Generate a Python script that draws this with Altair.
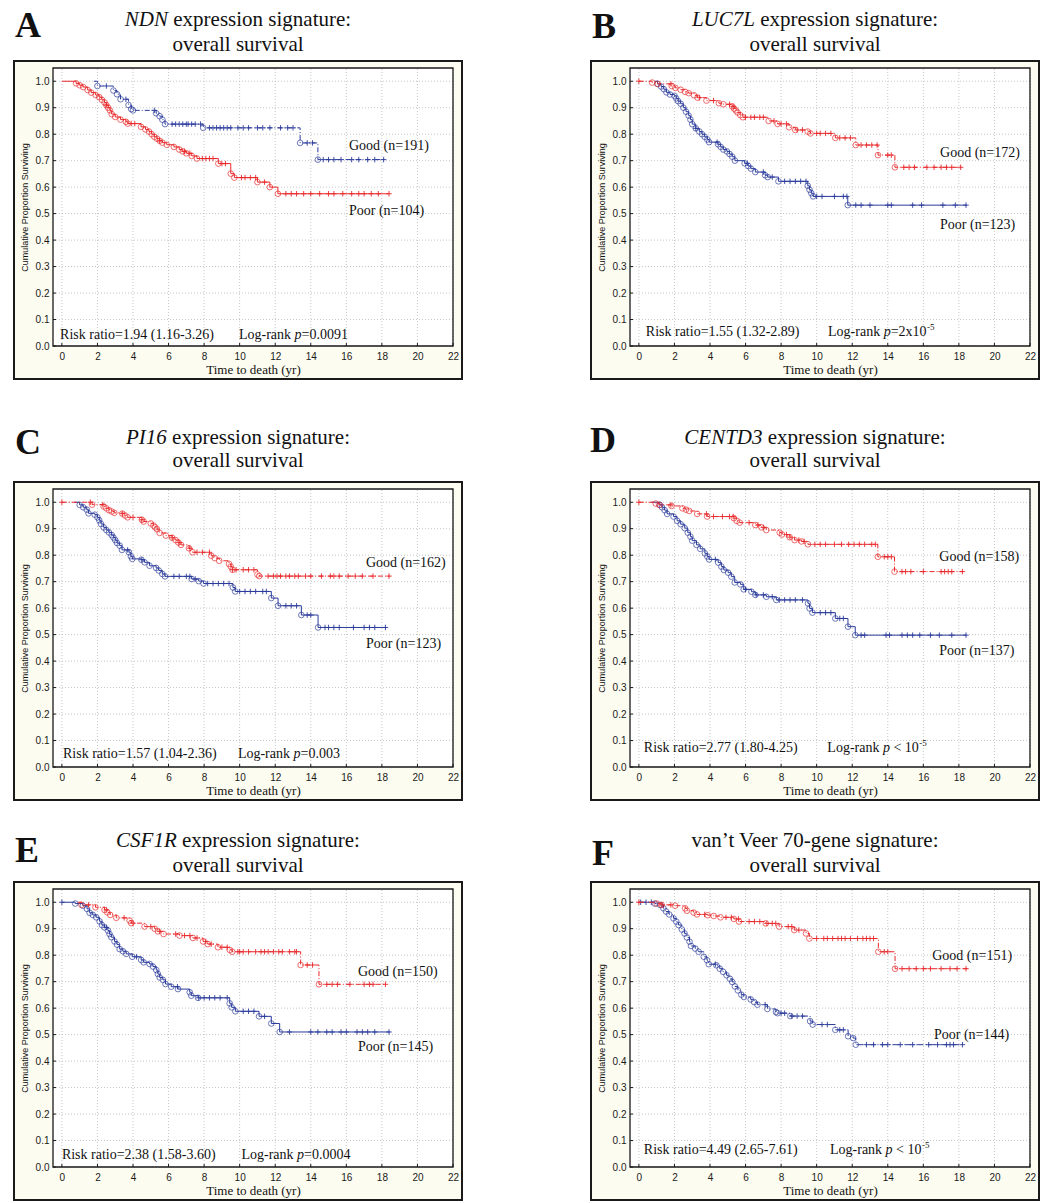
import altair as alt
import pandas as pd

RED = "#e8282a"
BLUE = "#2b3b9b"
FRAME_FILL = "#fdfcf0"
INK = "#111111"
SERIF = "Liberation Serif"
SANS = "Liberation Sans"

XTICKS = [0, 2, 4, 6, 8, 10, 12, 14, 16, 18, 20, 22]
YTICKS = [0.0, 0.1, 0.2, 0.3, 0.4, 0.5, 0.6, 0.7, 0.8, 0.9, 1.0]
XDOM = [-0.5, 22]
YDOM = [0.0, 1.05]

# ---------------- Panel A (NDN) ----------------
A_good_t = [1.8, 2.0, 2.9, 3.1, 3.3, 3.75, 3.9, 4.0, 5.3, 5.5, 5.65, 5.8, 7.95, 13.4, 14.4]
A_good_s = [1.0, 0.982, 0.965, 0.951, 0.932, 0.91, 0.895, 0.89, 0.879, 0.868, 0.855, 0.838, 0.824, 0.767, 0.704]
A_good_c = [2.5, 3.6, 5.2, 6.2, 6.4, 6.6, 6.8, 7.0, 7.1, 7.3, 7.5, 7.8, 8.3, 8.5, 8.7, 8.9, 9.1, 9.3,
            9.5, 9.9, 10.2, 10.5, 11.0, 11.3, 11.7, 12.3, 12.7, 13.0, 13.8, 14.1, 14.7, 15.0, 15.3,
            15.7, 16.3, 16.7, 17.2, 17.6, 18.1]
A_good_end = 18.2
A_poor_t = [0, 0.8, 1.0, 1.2, 1.45, 1.65, 1.9, 2.1, 2.25, 2.4, 2.5, 2.6, 2.7, 2.8, 3.0, 3.3, 3.6, 3.7,
            4.45, 4.7, 4.9, 5.05, 5.2, 5.35, 5.5, 5.65, 5.9, 6.3, 6.6, 6.8, 7.0, 7.3, 7.6, 8.8, 9.5,
            9.7, 11.0, 11.7, 12.15]
A_poor_s = [1.0, 0.992, 0.985, 0.978, 0.967, 0.957, 0.948, 0.94, 0.93, 0.92, 0.91, 0.9, 0.89, 0.876,
            0.865, 0.855, 0.847, 0.84, 0.828, 0.818, 0.81, 0.8, 0.79, 0.783, 0.775, 0.768, 0.76,
            0.752, 0.742, 0.735, 0.728, 0.718, 0.708, 0.689, 0.651, 0.636, 0.619, 0.6, 0.575]
A_poor_c = [2.5, 3.9, 4.1, 5.5, 6.9, 7.2, 7.9, 8.1, 8.3, 8.5, 9.0, 9.2, 10.1, 10.3, 10.6, 10.9, 11.4,
            12.6, 12.9, 13.2, 13.6, 14.0, 14.5, 15.0, 15.3, 15.8, 16.3, 16.7, 17.0, 17.4, 17.8, 18.4]
A_poor_end = 18.4

# ---------------- Panel B (LUC7L) ----------------
B_good_t = [0, 0.75, 1.05, 1.85, 2.05, 2.35, 2.6, 2.8, 3.1, 3.3, 3.8, 4.5, 4.75, 5.25, 5.35, 5.45,
            5.55, 5.7, 5.85, 7.3, 7.8, 8.45, 8.8, 9.5, 9.65, 11.05, 12.2, 13.45, 14.4]
B_good_s = [1.0, 0.995, 0.99, 0.982, 0.975, 0.968, 0.96, 0.955, 0.947, 0.938, 0.927, 0.917, 0.913,
            0.905, 0.897, 0.89, 0.882, 0.872, 0.864, 0.85, 0.839, 0.826, 0.816, 0.81, 0.803, 0.786,
            0.759, 0.721, 0.675]
B_good_c = [0.0, 1.8, 3.4, 4.2, 5.1, 5.3, 6.0, 6.3, 6.5, 6.8, 7.0, 7.6, 8.0, 8.3, 8.9, 9.2, 10.0, 10.2,
            10.5, 10.8, 11.3, 11.6, 11.9, 12.5, 12.8, 13.1, 13.4, 14.0, 14.2, 14.9, 15.2, 15.5, 16.2,
            16.6, 17.0, 17.3, 17.6, 18.1]
B_good_end = 18.2
B_poor_t = [0.9, 1.05, 1.25, 1.4, 1.55, 1.75, 2.0, 2.1, 2.2, 2.35, 2.5, 2.65, 2.8, 2.9, 3.0, 3.2, 3.4,
            3.55, 3.7, 3.85, 3.95, 4.45, 4.6, 4.75, 4.95, 5.1, 5.25, 5.4, 5.95, 6.15, 6.3, 6.55, 7.1,
            7.25, 7.85, 9.5, 9.6, 9.7, 9.8, 11.75]
B_poor_s = [1.0, 0.99, 0.98, 0.97, 0.958, 0.95, 0.945, 0.935, 0.925, 0.915, 0.9, 0.885, 0.87, 0.855,
            0.838, 0.822, 0.81, 0.8, 0.79, 0.78, 0.77, 0.762, 0.752, 0.742, 0.735, 0.725, 0.715, 0.7,
            0.69, 0.68, 0.67, 0.657, 0.645, 0.638, 0.622, 0.605, 0.59, 0.577, 0.565, 0.532]
B_poor_c = [3.2, 4.4, 6.1, 7.0, 7.5, 8.2, 8.5, 8.8, 9.1, 9.4, 10.0, 10.3, 11.0, 11.5, 11.7, 12.2, 12.5,
            13.0, 14.0, 14.2, 15.4, 15.9, 17.1, 17.8, 18.4]
B_poor_end = 18.45

# ---------------- Panel C (PI16) ----------------
C_good_t = [0, 1.7, 2.35, 2.5, 2.65, 2.8, 2.95, 3.4, 3.55, 3.7, 4.5, 4.6, 5.0, 5.15, 5.25, 5.35, 5.5,
            5.85, 6.2, 6.4, 6.55, 6.7, 7.15, 7.35, 8.4, 8.6, 8.85, 9.4, 9.5, 9.6, 11.0, 11.1]
C_good_s = [1.0, 0.991, 0.984, 0.977, 0.97, 0.965, 0.96, 0.957, 0.95, 0.943, 0.934, 0.927, 0.92,
            0.912, 0.905, 0.898, 0.884, 0.874, 0.866, 0.857, 0.848, 0.839, 0.826, 0.811, 0.798,
            0.789, 0.779, 0.767, 0.757, 0.745, 0.727, 0.721]
C_good_c = [0.0, 1.6, 2.3, 3.4, 4.0, 4.5, 6.2, 6.6, 7.2, 7.6, 7.9, 8.3, 9.6, 9.8, 10.2, 10.5, 10.8, 11.6,
            11.9, 12.1, 12.3, 12.6, 12.8, 13.1, 13.3, 13.7, 14.0, 14.6, 15.1, 15.3, 15.6, 16.1, 16.5,
            16.9, 17.5, 18.4]
C_good_end = 18.45
C_poor_t = [0.7, 1.0, 1.2, 1.4, 1.5, 1.85, 2.0, 2.1, 2.2, 2.35, 2.5, 2.65, 2.8, 2.9, 3.0, 3.1, 3.25,
            3.38, 3.77, 3.88, 3.96, 4.47, 4.65, 4.93, 5.3, 5.45, 5.65, 5.8, 7.3, 7.7, 7.97, 9.62, 9.75,
            11.78, 12.16, 13.47, 14.41]
C_poor_s = [1.0, 0.99, 0.981, 0.972, 0.958, 0.953, 0.943, 0.932, 0.918, 0.905, 0.895, 0.886, 0.876,
            0.867, 0.857, 0.846, 0.836, 0.82, 0.811, 0.796, 0.786, 0.783, 0.773, 0.76, 0.752, 0.742,
            0.729, 0.72, 0.71, 0.702, 0.693, 0.678, 0.663, 0.638, 0.609, 0.574, 0.527]
C_poor_c = [3.7, 4.5, 6.3, 6.6, 7.0, 7.2, 7.5, 8.2, 8.5, 8.8, 9.1, 9.4, 10.0, 10.3, 10.6, 10.9, 11.3,
            11.5, 12.6, 12.9, 13.2, 13.8, 14.0, 14.8, 15.0, 15.3, 15.6, 16.4, 17.0, 17.3, 17.6, 18.2]
C_poor_end = 18.2

# ---------------- Panel D (CENTD3) ----------------
D_good_t = [0, 0.95, 1.15, 1.84, 2.45, 2.65, 2.83, 3.28, 3.84, 5.34, 5.5, 5.67, 6.55, 6.9, 7.17,
            7.92, 8.05, 8.48, 8.76, 9.14, 9.51, 13.44, 14.38]
D_good_s = [1.0, 0.995, 0.99, 0.986, 0.977, 0.972, 0.967, 0.956, 0.946, 0.94, 0.93, 0.923, 0.914,
            0.905, 0.895, 0.885, 0.878, 0.868, 0.857, 0.852, 0.841, 0.794, 0.738]
D_good_c = [0.0, 1.8, 3.8, 4.2, 4.7, 5.1, 5.3, 6.2, 6.7, 7.0, 8.3, 8.5, 9.0, 9.3, 9.9, 10.2, 10.5, 11.0,
            11.4, 11.8, 12.1, 12.4, 12.7, 13.1, 13.3, 13.8, 14.0, 14.2, 14.8, 15.0, 15.3, 16.0, 17.0,
            17.2, 17.4, 17.6, 18.2]
D_good_end = 18.2
D_poor_t = [0.7, 1.18, 1.3, 1.45, 1.59, 1.95, 2.15, 2.35, 2.58, 2.75, 2.9, 3.0, 3.24, 3.45, 3.71, 3.85,
            3.95, 4.46, 4.64, 4.78, 5.02, 5.2, 5.39, 5.71, 5.9, 6.33, 6.55, 7.17, 7.73, 9.51, 9.6,
            9.76, 11.05, 11.76, 12.17]
D_poor_s = [1.0, 0.99, 0.981, 0.97, 0.956, 0.946, 0.93, 0.917, 0.902, 0.885, 0.87, 0.855, 0.839,
            0.824, 0.807, 0.795, 0.784, 0.772, 0.757, 0.744, 0.734, 0.719, 0.697, 0.69, 0.671, 0.662,
            0.65, 0.643, 0.631, 0.618, 0.599, 0.583, 0.561, 0.53, 0.498]
D_poor_c = [4.3, 6.0, 6.6, 7.0, 7.5, 7.9, 8.2, 8.5, 8.8, 9.2, 10.2, 10.5, 10.8, 11.3, 11.5, 12.5, 12.7,
            13.9, 14.1, 14.8, 15.1, 15.4, 15.8, 16.4, 16.9, 17.6, 18.4]
D_poor_end = 18.4

# ---------------- Panel E (CSF1R) ----------------
E_good_t = [0.9, 1.1, 1.89, 2.4, 2.55, 2.72, 3.06, 3.81, 3.9, 4.65, 5.22, 5.4, 5.72, 6.62, 7.37,
            7.94, 8.2, 8.78, 9.44, 9.58, 13.43, 14.46]
E_good_s = [1.0, 0.99, 0.981, 0.971, 0.962, 0.952, 0.941, 0.931, 0.921, 0.908, 0.9, 0.89, 0.88,
            0.874, 0.865, 0.852, 0.842, 0.83, 0.82, 0.813, 0.763, 0.69]
E_good_c = [1.5, 2.5, 3.5, 4.0, 5.0, 5.5, 6.4, 6.9, 7.2, 7.6, 8.1, 8.4, 9.0, 9.3, 9.9, 10.0, 10.2,
            10.5, 10.9, 11.2, 11.4, 11.6, 11.9, 12.2, 12.4, 12.8, 13.1, 13.2, 13.8, 14.1, 14.9, 15.2,
            15.5, 16.2, 17.0, 17.3, 17.5, 18.2]
E_good_end = 18.2
E_poor_t = [0, 0.75, 1.18, 1.41, 1.56, 1.74, 1.93, 2.12, 2.25, 2.4, 2.59, 2.68, 2.78, 2.96, 3.1,
            3.25, 3.43, 3.62, 3.96, 4.46, 4.6, 4.93, 5.12, 5.31, 5.4, 5.5, 5.68, 5.83, 6.15, 6.53,
            7.19, 7.28, 7.66, 9.44, 9.55, 9.76, 11.09, 11.78, 12.25]
E_poor_s = [1.0, 0.995, 0.987, 0.975, 0.96, 0.952, 0.943, 0.928, 0.914, 0.905, 0.893, 0.88, 0.868,
            0.852, 0.84, 0.823, 0.815, 0.805, 0.794, 0.782, 0.773, 0.767, 0.757, 0.744, 0.729, 0.716,
            0.707, 0.691, 0.681, 0.672, 0.66, 0.647, 0.639, 0.618, 0.603, 0.588, 0.569, 0.542, 0.51]
E_poor_c = [0.0, 2.5, 4.2, 6.5, 7.7, 8.0, 8.3, 8.6, 8.9, 9.3, 10.2, 10.5, 10.8, 11.4, 12.8, 14.0,
            14.4, 14.9, 15.2, 15.7, 16.0, 16.6, 16.9, 17.2, 17.6, 18.4]
E_poor_end = 18.44

# ---------------- Panel F (van't Veer) ----------------
F_good_t = [0, 1.0, 1.28, 2.04, 2.6, 2.7, 3.08, 3.27, 3.87, 4.21, 4.59, 5.34, 5.63, 7.14, 7.89, 8.74,
            9.4, 9.59, 13.47, 14.41]
F_good_s = [1.0, 0.995, 0.99, 0.987, 0.977, 0.968, 0.961, 0.954, 0.951, 0.948, 0.943, 0.937, 0.927,
            0.92, 0.908, 0.895, 0.882, 0.863, 0.813, 0.749]
F_good_c = [0.0, 1.3, 1.8, 3.7, 4.9, 5.2, 5.6, 6.2, 6.5, 6.8, 7.2, 7.5, 7.7, 8.4, 8.6, 9.0, 10.0, 10.4,
            10.6, 10.9, 11.2, 11.4, 11.6, 11.9, 12.3, 12.6, 12.8, 13.0, 13.2, 13.8, 14.0, 14.8, 15.2,
            15.6, 16.0, 16.4, 17.0, 17.5, 17.9, 18.4]
F_good_end = 18.47
F_poor_t = [0, 0.9, 1.19, 1.38, 1.53, 1.7, 1.95, 2.1, 2.23, 2.42, 2.57, 2.7, 2.85, 2.93, 3.17, 3.36,
            3.65, 3.83, 3.93, 4.36, 4.55, 4.74, 4.93, 5.12, 5.25, 5.4, 5.57, 5.76, 5.91, 6.29, 6.48,
            6.67, 7.23, 7.71, 7.8, 8.52, 9.63, 9.78, 11.05, 11.77, 12.05, 12.2]
F_poor_s = [1.0, 0.995, 0.99, 0.977, 0.965, 0.954, 0.939, 0.927, 0.914, 0.897, 0.882, 0.867, 0.851,
            0.835, 0.825, 0.813, 0.794, 0.781, 0.766, 0.762, 0.749, 0.737, 0.724, 0.711, 0.699, 0.682,
            0.667, 0.651, 0.642, 0.633, 0.623, 0.613, 0.597, 0.585, 0.581, 0.57, 0.551, 0.538, 0.518,
            0.494, 0.487, 0.462]
F_poor_c = [0.1, 0.4, 0.7, 4.3, 7.1, 8.0, 8.2, 8.6, 8.9, 9.2, 10.3, 10.6, 11.3, 11.5, 12.8, 13.2,
            13.7, 14.0, 14.7, 15.4, 16.3, 16.8, 17.3, 17.5, 17.7, 18.2]
F_poor_end = 18.15

# ---------------- Texts ----------------
LETTERS = ["A", "B", "C", "D", "E", "F"]
TITLE_ITALIC = ["NDN", "LUC7L", "PI16", "CENTD3", "CSF1R", ""]
TITLE_REST = ["expression signature:"] * 5 + ["van\u2019t Veer 70-gene signature:"]
TITLE_LINE2 = "overall survival"
GOOD_N = [191, 172, 162, 158, 150, 151]
POOR_N = [104, 123, 123, 137, 145, 144]
RISK_TEXT = ["Risk ratio=1.94 (1.16-3.26)", "Risk ratio=1.55 (1.32-2.89)",
             "Risk ratio=1.57 (1.04-2.36)", "Risk ratio=2.77 (1.80-4.25)",
             "Risk ratio=2.38 (1.58-3.60)", "Risk ratio=4.49 (2.65-7.61)"]
LR_REST = ["=0.0091", "=2x10", "=0.003", " < 10", "=0.0004", " < 10"]
LR_SUP = ["", "-5", "", "-5", "", "-5"]

# annotation anchor places (data units)
GOOD_XY = [(16.15, 0.74), (16.94, 0.714), (17.1, 0.755), (16.9, 0.778), (16.65, 0.72), (16.5, 0.78)]
POOR_XY = [(16.15, 0.495), (16.94, 0.442), (17.1, 0.45), (16.9, 0.423), (16.65, 0.44), (16.6, 0.483)]
RISK_XY = [(-0.1, 0.026), (0.39, 0.038), (0.06, 0.034), (0.28, 0.057), (0.0, 0.03), (0.28, 0.049)]
LR_X = [9.96, 10.64, 9.9, 10.6, 10.1, 10.75]

# Which color is "Good" in each panel, and line dashes
GOOD_COLOR = [BLUE, RED, RED, RED, RED, RED]
POOR_COLOR = [RED, BLUE, BLUE, BLUE, BLUE, BLUE]
GOOD_DASH = [[5, 2, 1, 2]] * 6
POOR_DASH = [None, None, None, None, None, [7, 2, 1, 2]]

CURVES = [
    (A_good_t, A_good_s, A_good_c, A_good_end, A_poor_t, A_poor_s, A_poor_c, A_poor_end),
    (B_good_t, B_good_s, B_good_c, B_good_end, B_poor_t, B_poor_s, B_poor_c, B_poor_end),
    (C_good_t, C_good_s, C_good_c, C_good_end, C_poor_t, C_poor_s, C_poor_c, C_poor_end),
    (D_good_t, D_good_s, D_good_c, D_good_end, D_poor_t, D_poor_s, D_poor_c, D_poor_end),
    (E_good_t, E_good_s, E_good_c, E_good_end, E_poor_t, E_poor_s, E_poor_c, E_poor_end),
    (F_good_t, F_good_s, F_good_c, F_good_end, F_poor_t, F_poor_s, F_poor_c, F_poor_end),
]

# ---------------- Layout ----------------
ROW_H = [372, 420, 400]
ROW_FY = [51, 100, 80]
ROW_TY = [(16, 41), (62, 85), (45, 70)]
LETTER_POS = [(7, 27), (7, 28), (7, 72), (5, 70), (7, 60), (7, 63)]
COL_W = [462, 456]
TITLE_CX = 230
PX_X = 400 / 22.5
PX_Y = 278 / 1.05

REG = {' ': 250, '(': 333, ')': 333, '-': 333, '.': 250, ':': 278, '=': 564, '<': 564, '\u2019': 333,
       'a': 444, 'b': 500, 'c': 444, 'd': 500, 'e': 444, 'f': 333, 'g': 500, 'h': 500, 'i': 278,
       'j': 278, 'k': 500, 'l': 278, 'm': 778, 'n': 500, 'o': 500, 'p': 500, 'q': 500, 'r': 333,
       's': 389, 't': 278, 'u': 500, 'v': 500, 'w': 722, 'x': 500, 'y': 500, 'z': 444,
       'A': 722, 'B': 667, 'C': 667, 'D': 722, 'E': 611, 'F': 556, 'G': 722, 'I': 333, 'L': 611,
       'N': 722, 'P': 556, 'R': 667, 'S': 556, 'T': 611, 'U': 722, 'V': 722}
ITAL = {'N': 667, 'D': 722, 'L': 556, 'U': 722, 'C': 667, 'E': 611, 'T': 556, 'R': 611, 'P': 611,
        'I': 333, 'F': 611, 'S': 500, 'p': 500}


def tw(s, size, italic=False):
    tab = ITAL if italic else REG
    return sum(tab.get(ch, REG.get(ch, 500)) for ch in s) / 1000.0 * size


def surv_at(ts, ss, c):
    v = ss[0]
    for t, s in zip(ts, ss):
        if t <= c:
            v = s
    return v


ONE = pd.DataFrame({"k": [0]})


def build_panel(i, H, FY, ty, W):
    xs = alt.Scale(domain=XDOM, range=[45, 445], nice=False, zero=False)
    ys = alt.Scale(domain=YDOM, range=[FY + 285, FY + 7], nice=False, zero=False)
    xax = alt.Axis(values=XTICKS, format="d", title="Time to death (yr)",
                   offset=-(H - (FY + 285)), domain=False, ticks=False, grid=False,
                   labelFont=SANS, labelFontSize=10, labelColor="#1a1a1a", labelPadding=5,
                   labelFlush=False, labelOverlap=False, zindex=5,
                   titleFont=SERIF, titleFontSize=13, titleFontWeight="normal",
                   titleColor=INK, titlePadding=2)
    yax = alt.Axis(values=YTICKS, format=".1f", title="Cumulative Proportion Surviving",
                   offset=-45, domain=False, ticks=False, grid=False,
                   labelFont=SANS, labelFontSize=10, labelColor="#1a1a1a", labelPadding=4,
                   labelFlush=False, labelOverlap=False, zindex=5,
                   titleFont=SANS, titleFontSize=9, titleFontWeight="normal",
                   titleColor=INK, titlePadding=6)

    def X(f):
        return alt.X(f, type="quantitative", scale=xs, axis=xax)

    def Y(f):
        return alt.Y(f, type="quantitative", scale=ys, axis=yax)

    layers = []
    # outer frame
    layers.append(alt.Chart(ONE).mark_rect(fill=FRAME_FILL, stroke="#1a1a1a", strokeWidth=2).encode(
        x=alt.value(6), x2=alt.value(454), y=alt.value(FY), y2=alt.value(FY + 318)))
    # inner plot area
    inner_df = pd.DataFrame({"x0": [XDOM[0]], "x1": [XDOM[1]], "y0": [YDOM[0]], "y1": [YDOM[1]]})
    layers.append(alt.Chart(inner_df).mark_rect(fill="white").encode(
        x=X("x0"), x2="x1", y=Y("y0"), y2="y1"))
    # grid
    gv = pd.DataFrame({"gx": XTICKS, "gy0": [YDOM[0]] * len(XTICKS), "gy1": [YDOM[1]] * len(XTICKS)})
    gh = pd.DataFrame({"gy": YTICKS, "gx0": [XDOM[0]] * len(YTICKS), "gx1": [XDOM[1]] * len(YTICKS)})
    layers.append(alt.Chart(gv).mark_rule(color="#b8b8b8", strokeWidth=0.8, strokeDash=[1, 2]).encode(
        x=X("gx"), y=Y("gy0"), y2="gy1"))
    layers.append(alt.Chart(gh).mark_rule(color="#b8b8b8", strokeWidth=0.8, strokeDash=[1, 2]).encode(
        y=Y("gy"), x=X("gx0"), x2="gx1"))
    # small inward ticks along the bottom and left edges
    tb = pd.DataFrame({"gx": XTICKS, "gy0": [YDOM[0]] * len(XTICKS),
                       "gy1": [YDOM[0] + 3 / PX_Y] * len(XTICKS)})
    tl = pd.DataFrame({"gy": YTICKS, "gx0": [XDOM[0]] * len(YTICKS),
                       "gx1": [XDOM[0] + 3 / PX_X] * len(YTICKS)})
    layers.append(alt.Chart(tb).mark_rule(color="#1a1a1a", strokeWidth=1).encode(
        x=X("gx"), y=Y("gy0"), y2="gy1"))
    layers.append(alt.Chart(tl).mark_rule(color="#1a1a1a", strokeWidth=1).encode(
        y=Y("gy"), x=X("gx0"), x2="gx1"))
    layers.append(alt.Chart(inner_df).mark_rect(fill=None, stroke="#1a1a1a", strokeWidth=1.3).encode(
        x=X("x0"), x2="x1", y=Y("y0"), y2="y1"))

    gt, gs, gc, gend, pt, ps, pc, pend = CURVES[i]
    for (t, s, c, end, col, dash) in [
        (pt, ps, pc, pend, POOR_COLOR[i], POOR_DASH[i]),
        (gt, gs, gc, gend, GOOD_COLOR[i], GOOD_DASH[i]),
    ]:
        ldf = pd.DataFrame({"t": list(t) + [end], "s": list(s) + [s[-1]]})
        kw = dict(interpolate="step-after", color=col, strokeWidth=1)
        if dash:
            kw["strokeDash"] = dash
        layers.append(alt.Chart(ldf).mark_line(**kw).encode(x=X("t"), y=Y("s")))
        edf = pd.DataFrame({"t": list(t[1:]), "s": list(s[1:])})
        layers.append(alt.Chart(edf).mark_point(shape="circle", filled=False, size=32, strokeWidth=0.8,
                                                color=col, opacity=0.85).encode(x=X("t"), y=Y("s")))
        cdf = pd.DataFrame({"t": list(c), "s": [surv_at(t, s, v) for v in c]})
        layers.append(alt.Chart(cdf).mark_point(shape="M-1,0L1,0M0,-1L0,1", filled=False, size=30,
                                                strokeWidth=0.9, color=col, opacity=1).encode(
            x=X("t"), y=Y("s")))

    # annotations (data units)
    reg_rows = [
        {"x": GOOD_XY[i][0], "y": GOOD_XY[i][1], "txt": "Good (n=%d)" % GOOD_N[i]},
        {"x": POOR_XY[i][0], "y": POOR_XY[i][1], "txt": "Poor (n=%d)" % POOR_N[i]},
        {"x": RISK_XY[i][0], "y": RISK_XY[i][1], "txt": RISK_TEXT[i]},
        {"x": LR_X[i], "y": RISK_XY[i][1], "txt": "Log-rank"},
    ]
    off = tw("Log-rank ", 14)
    ital_rows = [{"x": LR_X[i] + off / PX_X, "y": RISK_XY[i][1], "txt": "p"}]
    off += tw("p", 14, True)
    rest = LR_REST[i]
    lead = len(rest) - len(rest.lstrip(" "))
    reg_rows.append({"x": LR_X[i] + (off + tw(" " * lead, 14)) / PX_X, "y": RISK_XY[i][1],
                     "txt": rest.strip()})
    off += tw(rest, 14)
    sup_rows = []
    if LR_SUP[i]:
        sup_rows.append({"x": LR_X[i] + (off + 0.5) / PX_X, "y": RISK_XY[i][1] + 6 / PX_Y,
                         "txt": LR_SUP[i]})
    layers.append(alt.Chart(pd.DataFrame(reg_rows)).mark_text(
        align="left", baseline="alphabetic", font=SERIF, fontSize=14, color=INK).encode(
        x=X("x"), y=Y("y"), text="txt:N"))
    layers.append(alt.Chart(pd.DataFrame(ital_rows)).mark_text(
        align="left", baseline="alphabetic", font=SERIF, fontSize=14, fontStyle="italic",
        color=INK).encode(x=X("x"), y=Y("y"), text="txt:N"))
    if sup_rows:
        layers.append(alt.Chart(pd.DataFrame(sup_rows)).mark_text(
            align="left", baseline="alphabetic", font=SERIF, fontSize=9, color=INK).encode(
            x=X("x"), y=Y("y"), text="txt:N"))

    # titles (pixel placement above the frame)
    fs = 21
    it = TITLE_ITALIC[i]
    rest = TITLE_REST[i]
    if it:
        wi = tw(it, fs, True)
        wr = tw(" " + rest, fs)
        x0 = TITLE_CX - (wi + wr) / 2
        layers.append(alt.Chart(ONE).mark_text(align="left", baseline="alphabetic", font=SERIF,
                                               fontSize=fs, fontStyle="italic", color=INK).encode(
            x=alt.value(x0), y=alt.value(ty[0]), text=alt.value(it)))
        layers.append(alt.Chart(ONE).mark_text(align="left", baseline="alphabetic", font=SERIF,
                                               fontSize=fs, color=INK).encode(
            x=alt.value(x0 + wi + tw(" ", fs)), y=alt.value(ty[0]), text=alt.value(rest)))
    else:
        layers.append(alt.Chart(ONE).mark_text(align="center", baseline="alphabetic", font=SERIF,
                                               fontSize=fs, color=INK).encode(
            x=alt.value(TITLE_CX), y=alt.value(ty[0]), text=alt.value(rest)))
    layers.append(alt.Chart(ONE).mark_text(align="center", baseline="alphabetic", font=SERIF,
                                           fontSize=fs, color=INK).encode(
        x=alt.value(TITLE_CX), y=alt.value(ty[1]), text=alt.value(TITLE_LINE2)))
    lx, ly = LETTER_POS[i]
    layers.append(alt.Chart(ONE).mark_text(align="left", baseline="alphabetic", font=SERIF,
                                           fontSize=36, fontWeight="bold", color=INK).encode(
        x=alt.value(lx), y=alt.value(ly), text=alt.value(LETTERS[i])))

    return alt.layer(*layers).properties(width=W, height=H)


rows = []
for r in range(3):
    left = build_panel(2 * r, ROW_H[r], ROW_FY[r], ROW_TY[r], COL_W[0])
    right = build_panel(2 * r + 1, ROW_H[r], ROW_FY[r], ROW_TY[r], COL_W[1])
    rows.append(alt.hconcat(left, right, spacing=115))

chart = alt.vconcat(*rows, spacing=0).properties(padding=0).configure(
    background="white").configure_view(strokeWidth=0)

chart.save("out.html", embed_options={"renderer": "svg", "actions": False})
